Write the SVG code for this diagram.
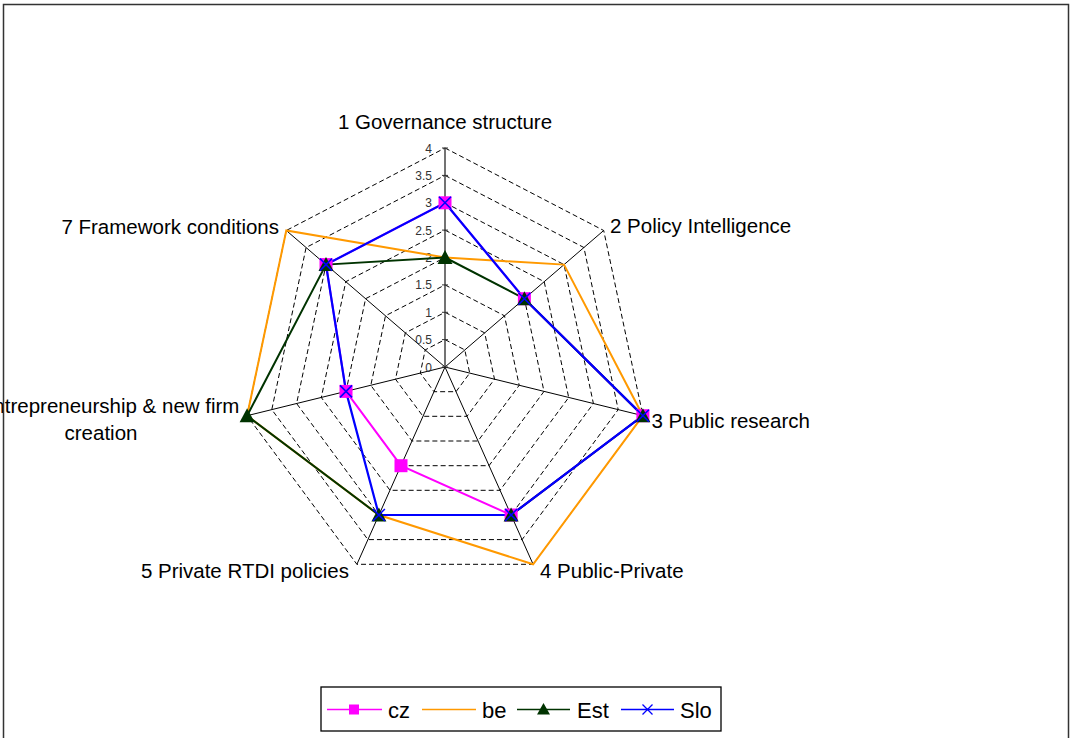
<svg xmlns="http://www.w3.org/2000/svg" width="1070" height="738" viewBox="0 0 1070 738">
<defs>
<style>
.lbl{font-family:"Liberation Sans",Arial,sans-serif;font-size:20.5px;fill:#000}
.tick{font-family:"Liberation Sans",Arial,sans-serif;font-size:12px;fill:#333;text-anchor:end}
.leg{font-family:"Liberation Sans",Arial,sans-serif;font-size:22px;fill:#000}
.ring{fill:none;stroke:#000;stroke-width:1;stroke-dasharray:5 3}
.spoke{stroke:#000;stroke-width:1}
.tk{stroke:#333;stroke-width:1}
.cz{fill:none;stroke:#FF00FF;stroke-width:2}
.be{fill:none;stroke:#FF9900;stroke-width:2}
.est{fill:none;stroke:#003300;stroke-width:2}
.slo{fill:none;stroke:#0000FF;stroke-width:2.2}
</style>
<rect id="mSq" x="-6.5" y="-6.5" width="13" height="13" fill="#FF00FF"/>
<polygon id="mTri" points="0,-7.5 7.5,6.5 -7.5,6.5" fill="#003300"/>
<path id="mX" d="M-6,-6 L6,6 M-6,6 L6,-6" stroke="#0000FF" stroke-width="1.6" fill="none"/>
</defs>
<rect x="0" y="0" width="1070" height="738" fill="#fff"/>
<g id="grid">
<polygon class="ring" points="445,339.6 464.8,349.9 469.7,373.1 456,391.7 434,391.7 420.3,373.1 425.2,349.9"/>
<polygon class="ring" points="445,312.3 484.7,332.9 494.5,379.2 467,416.3 423,416.3 395.5,379.2 405.3,332.9"/>
<polygon class="ring" points="445,284.9 504.5,315.8 519.2,385.3 478,441 412,441 370.8,385.3 385.5,315.8"/>
<polygon class="ring" points="445,257.5 524.4,298.7 544,391.4 489,465.7 401,465.7 346,391.4 365.6,298.7"/>
<polygon class="ring" points="445,230.1 544.2,281.7 568.7,397.5 500,490.3 390,490.3 321.3,397.5 345.8,281.7"/>
<polygon class="ring" points="445,202.8 564,264.6 593.4,403.5 511.1,515 378.9,515 296.6,403.5 326,264.6"/>
<polygon class="ring" points="445,175.4 583.9,247.5 618.2,409.6 522.1,539.6 367.9,539.6 271.8,409.6 306.1,247.5"/>
<polygon class="ring" points="445,148 603.7,230.5 642.9,415.7 533.1,564.3 356.9,564.3 247.1,415.7 286.3,230.5"/>
<line class="spoke" x1="445" y1="367" x2="603.7" y2="230.5"/>
<line class="spoke" x1="445" y1="367" x2="642.9" y2="415.7"/>
<line class="spoke" x1="445" y1="367" x2="533.1" y2="564.3"/>
<line class="spoke" x1="445" y1="367" x2="356.9" y2="564.3"/>
<line class="spoke" x1="445" y1="367" x2="247.1" y2="415.7"/>
<line class="spoke" x1="445" y1="367" x2="286.3" y2="230.5"/>
<line x1="445" y1="367" x2="445" y2="148" stroke="#444" stroke-width="1.5"/>
<path class="tk" d="M442,367H448M442,339.6H448M442,312.3H448M442,284.9H448M442,257.5H448M442,230.1H448M442,202.8H448M442,175.4H448M442,148H448"/>
<text class="tick" x="432" y="371.5">0</text>
<text class="tick" x="432" y="344.1">0.5</text>
<text class="tick" x="432" y="316.8">1</text>
<text class="tick" x="432" y="289.4">1.5</text>
<text class="tick" x="432" y="262">2</text>
<text class="tick" x="432" y="234.6">2.5</text>
<text class="tick" x="432" y="207.3">3</text>
<text class="tick" x="432" y="179.9">3.5</text>
<text class="tick" x="432" y="152.5">4</text>
</g>
<g id="axis-labels">
<text id="label-1" class="lbl" x="445" y="129" text-anchor="middle">1 Governance structure</text>
<text id="label-2" class="lbl" x="610" y="233">2 Policy Intelligence</text>
<text id="label-3" class="lbl" x="651.5" y="427.5">3 Public research</text>
<text id="label-4" class="lbl" x="540" y="578">4 Public-Private</text>
<text id="label-5" class="lbl" x="349" y="577.5" text-anchor="end">5 Private RTDI policies</text>
<text id="label-6" class="lbl" text-anchor="middle"><tspan x="101" y="413">6 Entrepreneurship &amp; new firm</tspan><tspan x="101" y="440">creation</tspan></text>
<text id="label-7" class="lbl" x="279" y="234" text-anchor="end">7 Framework conditions</text>
</g>
<g id="connectors">
<polygon id="series-cz" class="cz" points="445,202.8 524.4,298.7 642.9,415.7 511.1,515 401,465.7 346,391.4 326,264.6"/>
<polygon id="series-be" class="be" points="445,257.5 564,264.6 642.9,415.7 533.1,564.3 378.9,515 247.1,415.7 286.3,230.5"/>
<polygon id="series-est" class="est" points="445,257.5 524.4,298.7 642.9,415.7 511.1,515 378.9,515 247.1,415.7 326,264.6"/>
<polygon id="series-slo" class="slo" points="445,202.8 524.4,298.7 642.9,415.7 511.1,515 378.9,515 346,391.4 326,264.6"/>
</g>
<g id="markers-cz">
<use href="#mSq" x="445" y="202.8"/><use href="#mSq" x="524.4" y="298.7"/><use href="#mSq" x="642.9" y="415.7"/><use href="#mSq" x="511.1" y="515"/><use href="#mSq" x="401" y="465.7"/><use href="#mSq" x="346" y="391.4"/><use href="#mSq" x="326" y="264.6"/>
</g>
<g id="markers-est">
<use href="#mTri" x="445" y="257.5"/><use href="#mTri" x="524.4" y="298.7"/><use href="#mTri" x="642.9" y="415.7"/><use href="#mTri" x="511.1" y="515"/><use href="#mTri" x="378.9" y="515"/><use href="#mTri" x="247.1" y="415.7"/><use href="#mTri" x="326" y="264.6"/>
</g>
<g id="markers-slo">
<use href="#mX" x="445" y="202.8"/><use href="#mX" x="524.4" y="298.7"/><use href="#mX" x="642.9" y="415.7"/><use href="#mX" x="511.1" y="515"/><use href="#mX" x="378.9" y="515"/><use href="#mX" x="346" y="391.4"/><use href="#mX" x="326" y="264.6"/>
</g>
<g id="legend">
<rect x="321" y="687" width="400" height="44" fill="#fff" stroke="#000" stroke-width="1.3"/>
<line x1="327" y1="709.5" x2="382" y2="709.5" stroke="#FF00FF" stroke-width="1.5"/>
<rect x="349" y="704.5" width="10" height="10" fill="#FF00FF"/>
<text class="leg" x="388" y="718">cz</text>
<line x1="422" y1="709.5" x2="476" y2="709.5" stroke="#FF9900" stroke-width="1.5"/>
<text class="leg" x="482" y="718">be</text>
<line x1="517" y1="709.5" x2="570" y2="709.5" stroke="#003300" stroke-width="1.5"/>
<polygon points="543.5,703 550,714.5 537,714.5" fill="#003300"/>
<text class="leg" x="577" y="718">Est</text>
<line x1="621" y1="709.5" x2="674" y2="709.5" stroke="#0000FF" stroke-width="1.5"/>
<path d="M642.5,704.5L652.5,714.5M642.5,714.5L652.5,704.5" stroke="#0000FF" stroke-width="1.3"/>
<text class="leg" x="680" y="718">Slo</text>
</g>
<rect id="frame" x="3.5" y="4.5" width="1065" height="745" fill="none" stroke="#333" stroke-width="1.5"/>
</svg>
